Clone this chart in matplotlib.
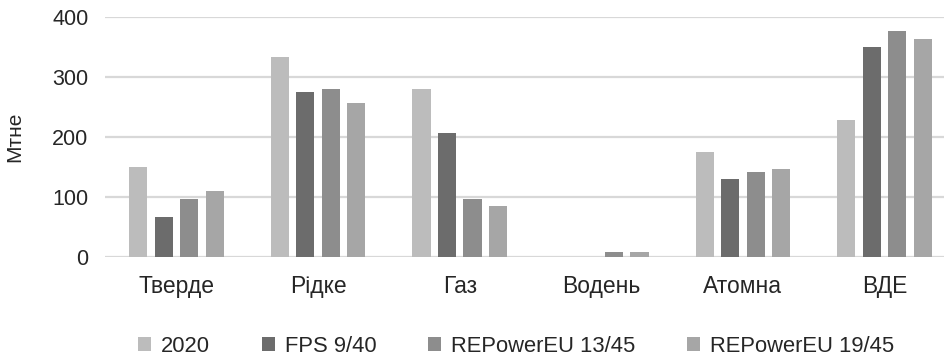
import matplotlib.pyplot as plt
import numpy as np

CATEGORIES = ["Тверде", "Рідке", "Газ", "Водень", "Атомна", "ВДЕ"]
SERIES = ["2020", "FPS 9/40", "REPowerEU 13/45", "REPowerEU 19/45"]
VALUES_2020 = [150, 333, 279, 0, 174, 228]
VALUES_FPS = [66, 274, 207, 0, 130, 349]
VALUES_REP13 = [97, 279, 97, 8, 141, 376]
VALUES_REP19 = [110, 256, 85, 8, 146, 363]
Y_TICKS = [0, 100, 200, 300, 400]
Y_LABEL = "Мтне"

COLORS = ["#bcbcbc", "#6c6c6c", "#8d8d8d", "#a6a6a6"]
TEXT_COLOR = "#262626"
FONT = "Liberation Sans"

plt.rcParams["font.family"] = [FONT, "DejaVu Sans"]

fig = plt.figure(figsize=(9.45, 3.56), dpi=100)
ax = fig.add_axes([105 / 945, 99 / 356, 1 - 105 / 945, (257 - 16.7) / 356])

x = np.arange(len(CATEGORIES))
pitch = 0.18
width = 0.128
all_values = [VALUES_2020, VALUES_FPS, VALUES_REP13, VALUES_REP19]
for i, (name, vals, color) in enumerate(zip(SERIES, all_values, COLORS)):
    ax.bar(x + (i - 1.5) * pitch, vals, width=width, color=color, label=name, zorder=3)

ax.set_xlim(-0.505, 5.427)
ax.set_ylim(0, 400)
ax.set_yticks(Y_TICKS)
ax.set_xticks(x)
ax.set_xticklabels(CATEGORIES)
ax.grid(axis="y", color="#d8d8d8", linewidth=1.6, zorder=0)
for spine in ax.spines.values():
    spine.set_visible(False)
ax.tick_params(axis="both", length=0, colors=TEXT_COLOR)
ax.tick_params(axis="y", pad=12, labelsize=15.5)
ax.tick_params(axis="x", pad=13, labelsize=16.5)
ax.set_ylabel(Y_LABEL, fontsize=15, color=TEXT_COLOR, labelpad=20)

handles, labels = ax.get_legend_handles_labels()
fig.legend(
    handles,
    labels,
    loc="center",
    bbox_to_anchor=(516 / 945, 1 - 346 / 356),
    ncol=4,
    frameon=False,
    fontsize=15.8,
    handlelength=0.6,
    handleheight=0.6,
    handletextpad=0.45,
    columnspacing=2.35,
    labelcolor=TEXT_COLOR,
)

fig.savefig("out.png", dpi=100)
